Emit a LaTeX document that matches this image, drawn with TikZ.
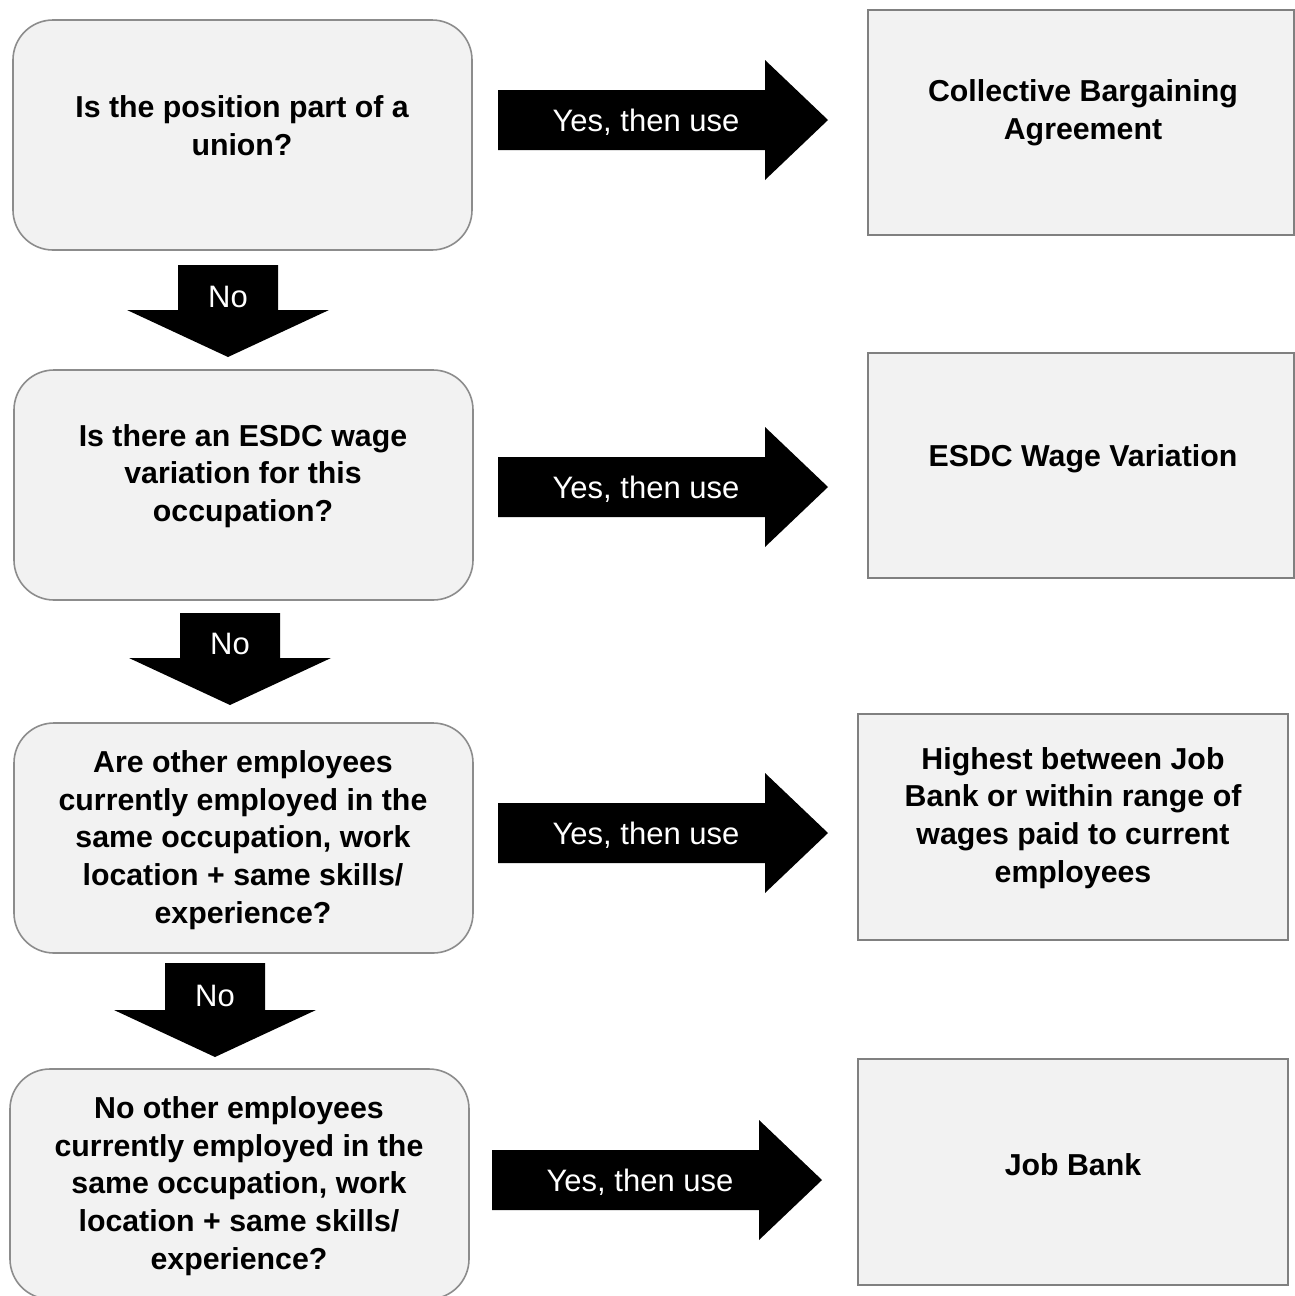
\documentclass[tikz,border=0pt]{standalone}
\usepackage{fontspec}
\setmainfont{Liberation Sans}
\begin{document}
\begin{tikzpicture}[x=1pt,y=-1pt,
  qbox/.style={draw=black!45, line width=1.6pt, fill=black!5, rounded corners=40pt},
  abox/.style={draw=black!50, line width=2pt, fill=black!5},
  qtext/.style={align=center, font=\fontsize{30.3}{37.7}\selectfont\bfseries, inner sep=0pt},
  atext/.style={qtext},
  arrtext/.style={text=white, font=\fontsize{31}{36}\selectfont, inner sep=0pt},
  blockarrow/.style={fill=black, draw=none}
]
\useasboundingbox (0,0) rectangle (1294,1296);
\fill[white] (0,0) rectangle (1294,1296);

% question boxes
\draw[qbox] (13,20) rectangle (472,250);
\node[qtext] (q1t) at (242,126) {Is the position part of a\\union?};

\draw[qbox] (14,370) rectangle (473,600);
\node[qtext] (q2t) at (243,476) {Is there an ESDC wage\\variation for this\\occupation?};

\draw[qbox] (14,723) rectangle (473,953);
\node[qtext] (q3t) at (243,840) {Are other employees\\currently employed in the\\same occupation, work\\location + same skills/\\experience?};

\draw[qbox] (10,1069) rectangle (469,1299);
\node[qtext] (q4t) at (239,1186) {No other employees\\currently employed in the\\same occupation, work\\location + same skills/\\experience?};

% answer boxes
\draw[abox] (868,10) rectangle (1294,235);
\node[atext] (a1t) at (1083,113) {Collective Bargaining\\Agreement};

\draw[abox] (868,353) rectangle (1294,578);
\node[atext] (a2t) at (1083,459) {ESDC Wage Variation};

\draw[abox] (858,714) rectangle (1288,940);
\node[atext] (a3t) at (1073,818) {Highest between Job\\Bank or within range of\\wages paid to current\\employees};

\draw[abox] (858,1059) rectangle (1288,1285);
\node[atext] (a4t) at (1073,1165) {Job Bank};

% right block arrows: shaft x1..x2, tip x3, centre y
\newcommand\rblock[4]{%
  \fill[blockarrow] (#1,#4-30) -- (#2,#4-30) -- (#2,#4-60) -- (#3,#4) -- (#2,#4+60) -- (#2,#4+30) -- (#1,#4+30) -- cycle;}
\rblock{498}{765}{828}{120}
\node[arrtext] (y1) at (646,122) {Yes, then use};
\rblock{498}{765}{828}{487}
\node[arrtext] (y2) at (646,489) {Yes, then use};
\rblock{498}{765}{828}{833}
\node[arrtext] (y3) at (646,835) {Yes, then use};
\rblock{492}{759}{822}{1180}
\node[arrtext] (y4) at (640,1182) {Yes, then use};

% down block arrows: centre x, top y, head y, tip y
\newcommand\dblock[4]{%
  \fill[blockarrow] (#1-50,#2) -- (#1+50,#2) -- (#1+50,#3) -- (#1+101,#3) -- (#1,#4) -- (#1-101,#3) -- (#1-50,#3) -- cycle;}
\dblock{228}{265}{310}{357}
\node[arrtext] (n1) at (228,297) {No};
\dblock{230}{613}{658}{705}
\node[arrtext] (n2) at (230,644) {No};
\dblock{215}{963}{1010}{1057}
\node[arrtext] (n3) at (215,996) {No};
\end{tikzpicture}
\end{document}
